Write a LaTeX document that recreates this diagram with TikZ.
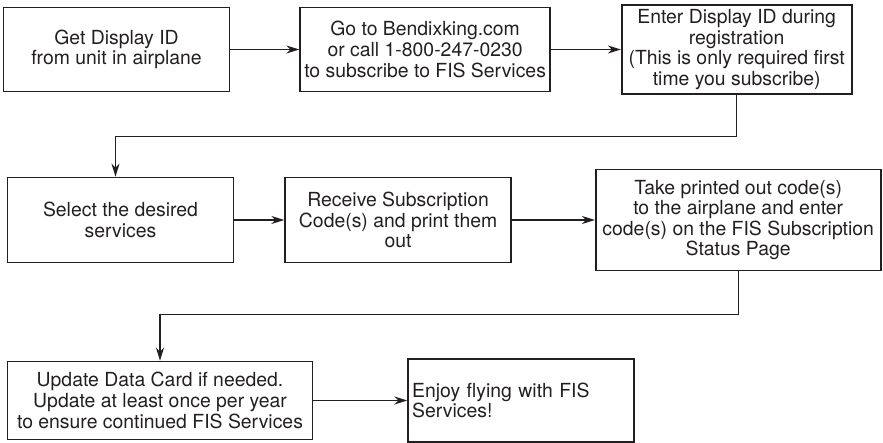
\documentclass[tikz,border=0pt]{standalone}
\usepackage{fontspec}
\setmainfont{TeX Gyre Heros}
\usetikzlibrary{positioning,arrows.meta}
\definecolor{ink}{HTML}{231F20}

\begin{document}
\begin{tikzpicture}[
  x=1pt, y=1pt,
  stepbox/.style={draw=ink, line width=1.6pt, text=ink, inner sep=3pt,
                  align=center, font=\fontsize{19.4}{20.6}\selectfont},
  link/.style={draw=ink, line width=1.4pt},
  >={Stealth[length=13pt, width=8pt, inset=4pt]}
]
\useasboundingbox (0,0) rectangle (883,443);

% Row 1: get the ID and register
\node[stepbox, minimum width=226pt, minimum height=84pt] (getid) at (116.5,393.5)
  {Get Display ID\\from unit in airplane};
\node[stepbox, minimum width=250pt, minimum height=84pt, right=69pt of getid] (website)
  {Go to Bendixking.com\\or call 1-800-247-0230\\to subscribe to FIS Services};
\node[stepbox, minimum width=230pt, minimum height=89pt, right=70pt of website] (enterid)
  {Enter Display ID during\\registration\\(This is only required first\\time you subscribe)};

% Row 2: services and codes
\node[stepbox, minimum width=226pt, minimum height=85pt] (select) at (120.5,223)
  {Select the desired\\services};
\node[stepbox, minimum width=226pt, minimum height=85pt, right=50pt of select] (receive)
  {Receive Subscription\\Code(s) and print them\\out};
\node[stepbox, minimum width=285pt, minimum height=101pt, right=83pt of receive] (takecode)
  {Take printed out code(s)\\to the airplane and enter\\code(s) on the FIS Subscription\\Status Page};

% Row 3: data card and done
\node[stepbox, minimum width=305pt, minimum height=78pt] (update) at (160,42.5)
  {Update Data Card if needed.\\Update at least once per year\\to ensure continued FIS Services};
\node[stepbox, align=left, inner sep=4pt, text width=218pt, minimum height=83pt,
      right=94pt of update] (enjoy)
  {Enjoy flying with FIS\\Services!};

% Connections
\draw[link, ->] (getid) -- (website);
\draw[link, ->] (website) -- (enterid);
\draw[link, ->] (enterid.south) -- ++(0,-42) -| ([xshift=-5pt]select.north);
\draw[link, ->] (select) -- (receive);
\draw[link, ->] (receive) -- (takecode);
\draw[link, ->] (takecode.south) -- ++(0,-43) -| (update.north);
\draw[link, ->] (update) -- (enjoy);

\end{tikzpicture}
\end{document}
